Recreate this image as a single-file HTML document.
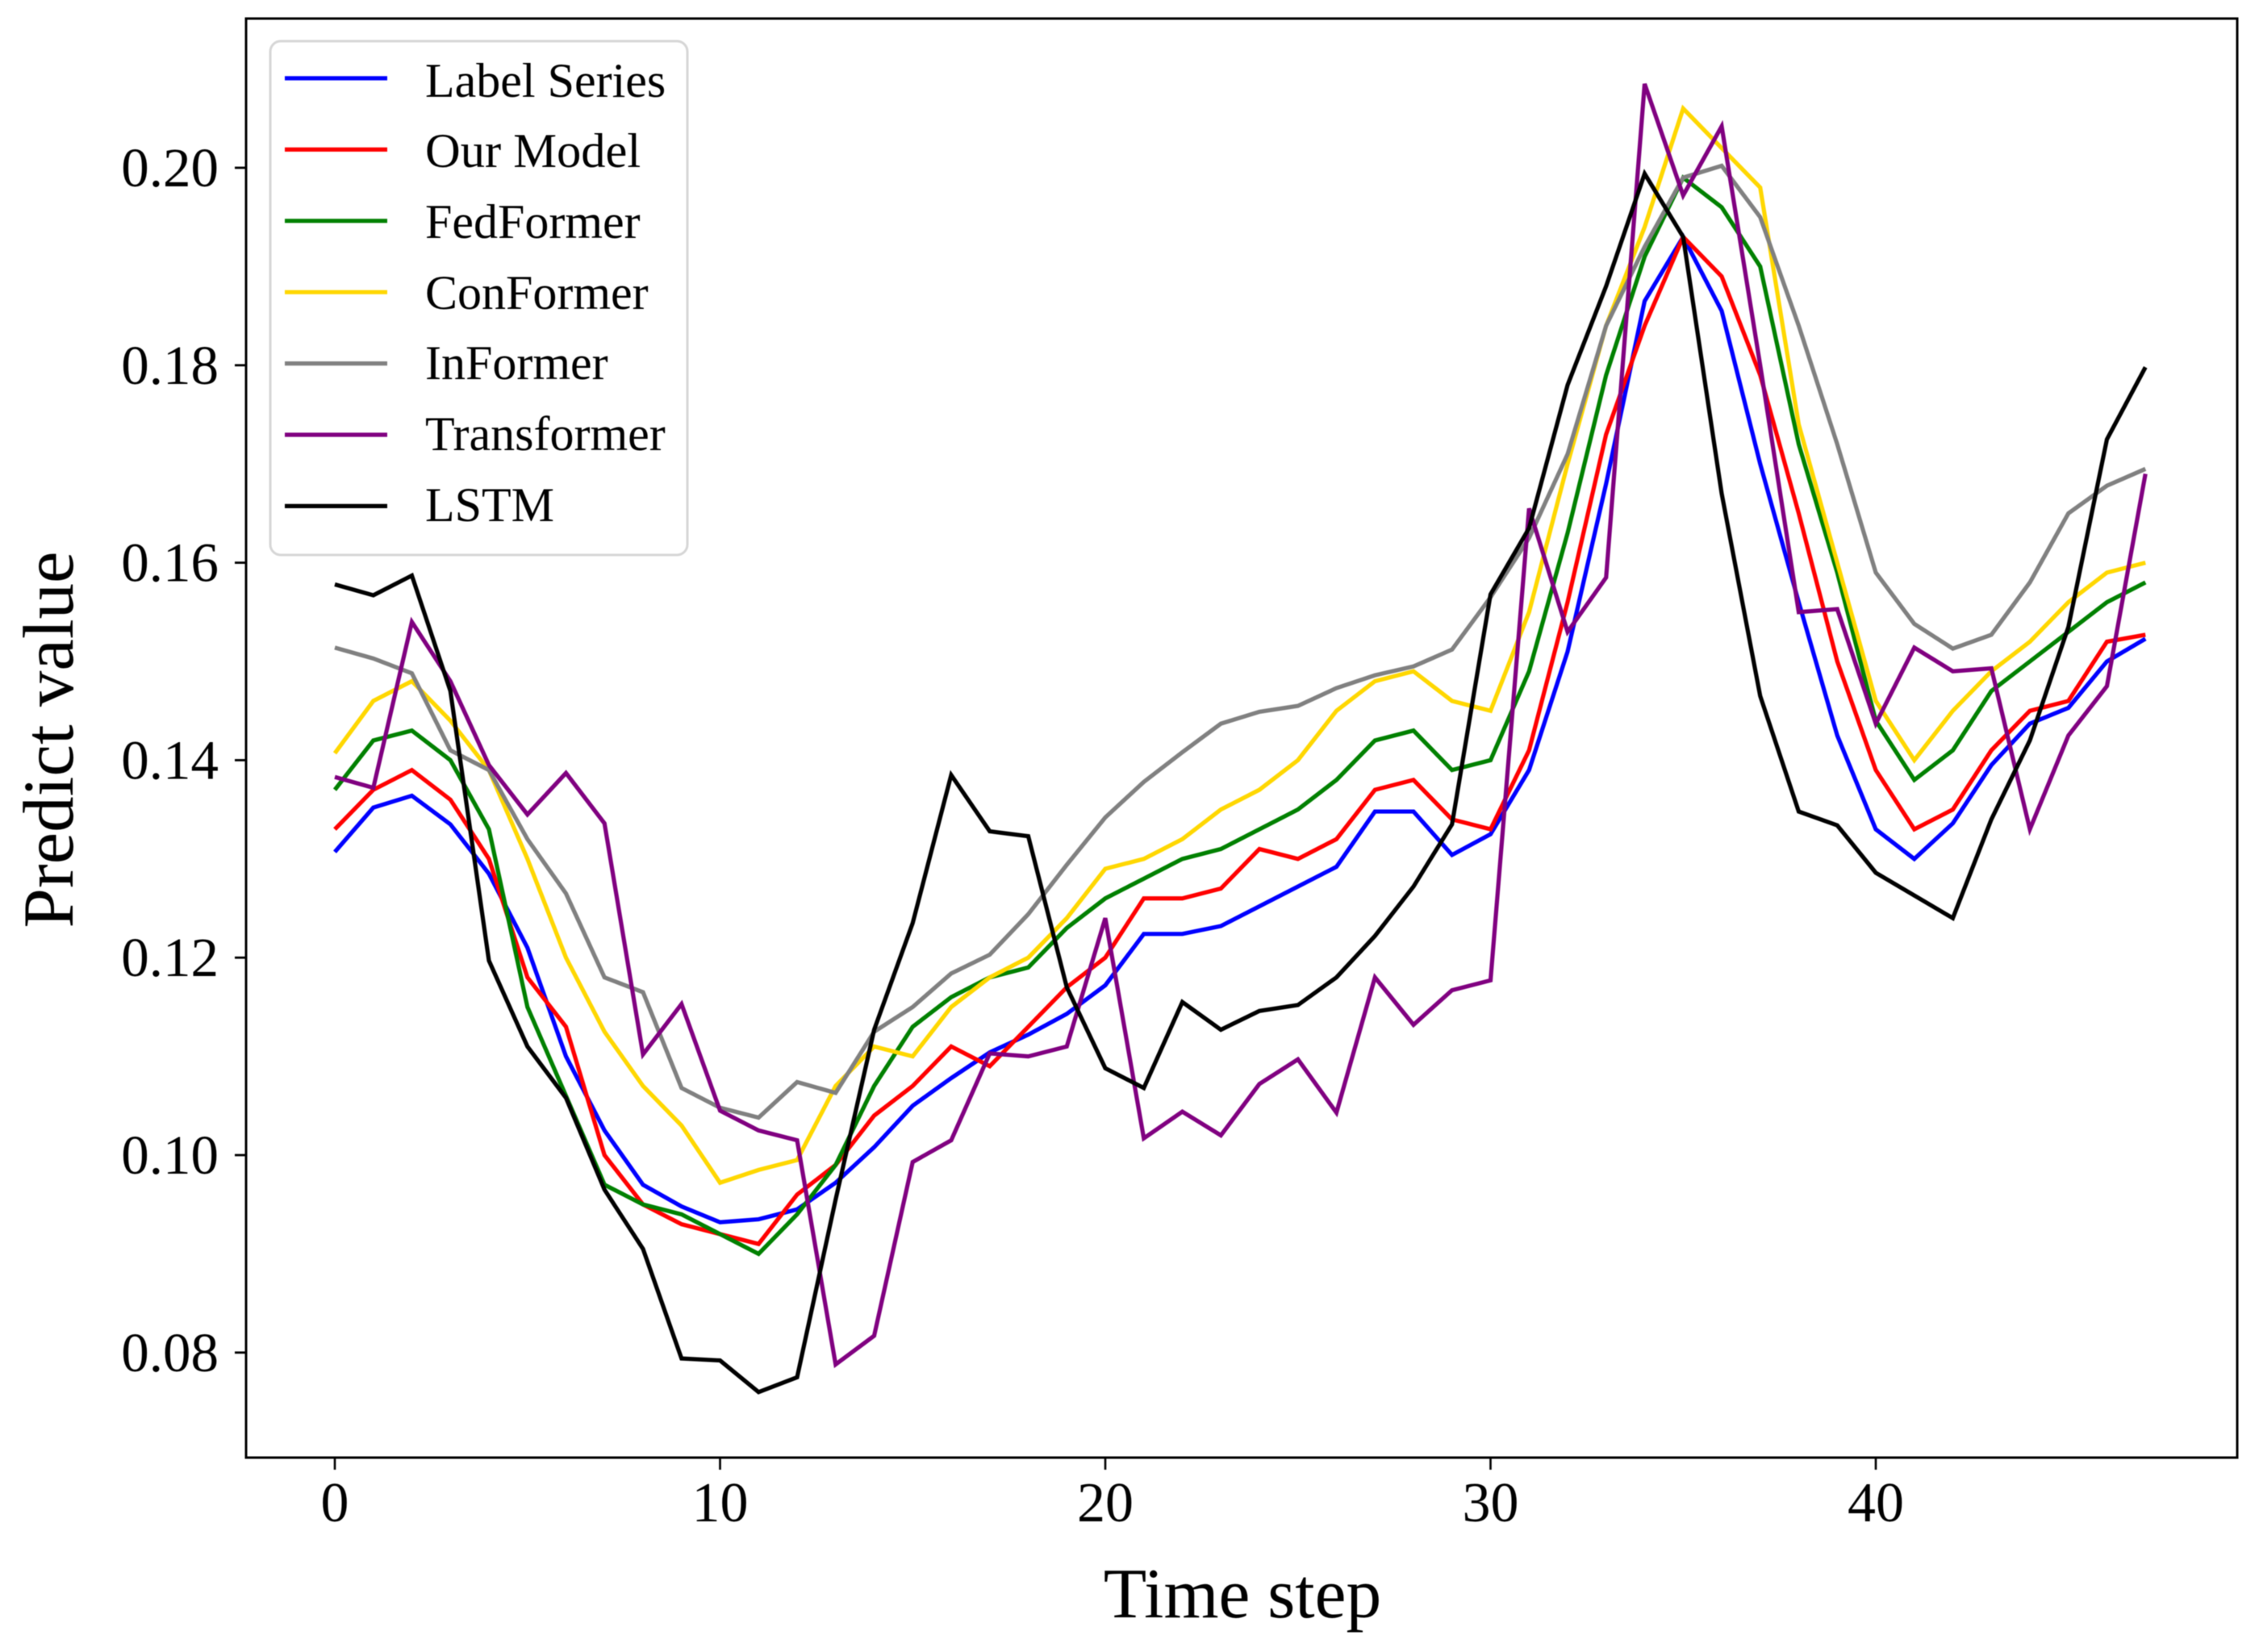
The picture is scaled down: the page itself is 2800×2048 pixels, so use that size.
<!DOCTYPE html>
<html lang="en">
<head>
<meta charset="utf-8">
<title>Predict value over time step</title>
<style>
  html, body { margin: 0; padding: 0; background: #ffffff; }
  #chart { display: block; width: 2800px; height: 2048px; filter: blur(0.6px); }
  text { font-family: "Liberation Serif", "DejaVu Serif", serif; fill: #000000; }
</style>
</head>
<body>
<svg id="chart" xmlns="http://www.w3.org/2000/svg" width="2800" height="2048" viewBox="0 0 2800 2048">
  <rect x="0" y="0" width="2800" height="2048" fill="#ffffff"></rect>
  <g id="series-layer"></g>
  <rect x="305" y="23" width="2468" height="1784" fill="none" stroke="#000000" stroke-width="3"></rect>
  <g id="x-ticks"></g>
  <g id="y-ticks"></g>
  <text x="1540" y="2005" font-size="87.5" text-anchor="middle">Time step</text>
  <text transform="translate(90 917) rotate(-90)" font-size="89" text-anchor="middle">Predict value</text>
  <g>
    <rect x="335" y="51" width="517" height="637" rx="13" ry="13" fill="#ffffff" fill-opacity="0.85" stroke="#d6d6d6" stroke-width="3"></rect>
    <g id="legend-swatches"></g>
    <text x="527" y="120" font-size="60">Label Series</text>
    <text x="527" y="207" font-size="60.5">Our Model</text>
    <text x="527" y="295" font-size="60">FedFormer</text>
    <text x="527" y="383" font-size="60">ConFormer</text>
    <text x="527" y="470" font-size="60">InFormer</text>
    <text x="527" y="558" font-size="60">Transformer</text>
    <text x="527" y="646" font-size="60">LSTM</text>
  </g>
</svg>
<script>
const labelSeries = [0.1307,0.1352,0.1364,0.1335,0.1285,0.121,0.110,0.1025,0.097,0.0948,0.0932,0.0935,0.0945,0.0972,0.1008,0.105,0.1078,0.1104,0.1122,0.1143,0.1172,0.1224,0.1224,0.1232,0.1252,0.1272,0.1292,0.1348,0.1348,0.1304,0.1325,0.139,0.151,0.168,0.1865,0.193,0.1855,0.170,0.156,0.1425,0.133,0.130,0.1336,0.1395,0.1437,0.1453,0.150,0.1523];
const ourModel = [0.133,0.137,0.139,0.136,0.130,0.118,0.113,0.100,0.095,0.093,0.092,0.091,0.096,0.099,0.104,0.107,0.111,0.109,0.113,0.117,0.120,0.126,0.126,0.127,0.131,0.130,0.132,0.137,0.138,0.134,0.133,0.141,0.156,0.173,0.184,0.193,0.189,0.179,0.165,0.150,0.139,0.133,0.135,0.141,0.145,0.146,0.152,0.1527];
const fedFormer = [0.137,0.142,0.143,0.140,0.133,0.115,0.106,0.097,0.095,0.094,0.092,0.090,0.094,0.099,0.107,0.113,0.116,0.118,0.119,0.123,0.126,0.128,0.130,0.131,0.133,0.135,0.138,0.142,0.143,0.139,0.140,0.149,0.163,0.179,0.191,0.199,0.196,0.190,0.172,0.159,0.144,0.138,0.141,0.147,0.150,0.153,0.156,0.158];
const conFormer = [0.1407,0.146,0.148,0.144,0.139,0.130,0.120,0.1125,0.107,0.103,0.0972,0.0985,0.0995,0.107,0.111,0.110,0.115,0.118,0.120,0.124,0.129,0.130,0.132,0.135,0.137,0.140,0.145,0.148,0.149,0.146,0.145,0.155,0.170,0.184,0.194,0.206,0.202,0.198,0.174,0.160,0.146,0.140,0.145,0.149,0.152,0.156,0.159,0.160];
const inFormer = [0.1514,0.1503,0.1488,0.141,0.139,0.132,0.1265,0.118,0.1165,0.1068,0.1048,0.1038,0.1074,0.1063,0.1125,0.115,0.1184,0.1203,0.1244,0.1294,0.1342,0.1378,0.1408,0.1437,0.1449,0.1455,0.1473,0.1486,0.1495,0.1512,0.1565,0.1625,0.171,0.184,0.192,0.199,0.2002,0.195,0.184,0.172,0.159,0.1538,0.1513,0.1527,0.158,0.165,0.1678,0.1695];
const transformer = [0.1383,0.1372,0.154,0.148,0.1395,0.1345,0.1387,0.1336,0.1102,0.1153,0.1045,0.1025,0.1015,0.0788,0.0817,0.0993,0.1015,0.1103,0.110,0.111,0.124,0.1017,0.1044,0.102,0.1072,0.1097,0.1043,0.118,0.1132,0.1167,0.1177,0.1655,0.153,0.1585,0.2085,0.1972,0.2042,0.180,0.155,0.1553,0.1437,0.1514,0.149,0.1493,0.133,0.1425,0.1475,0.169];
const lstm = [0.1578,0.1567,0.1587,0.147,0.1197,0.111,0.1058,0.0965,0.0905,0.0794,0.0792,0.076,0.0775,0.0955,0.1127,0.1235,0.1385,0.1328,0.1323,0.117,0.1088,0.1068,0.1155,0.1127,0.1146,0.1152,0.118,0.1222,0.1272,0.1335,0.1568,0.1635,0.178,0.188,0.1994,0.193,0.167,0.1465,0.1348,0.1334,0.1286,0.1263,0.124,0.134,0.142,0.1535,0.1725,0.1798];
const xTickValues = [0,10,20,30,40];
const yTickValues = [0.08,0.10,0.12,0.14,0.16,0.18,0.20];
const yTickLabels = ["0.08","0.10","0.12","0.14","0.16","0.18","0.20"];

const SVG_NS = "http://www.w3.org/2000/svg";
function xScale(v) { return 415 + 47.75 * v; }
function yScale(v) { return 208 + (0.2 - v) * 12240; }

function make(tag, attrs) {
  const el = document.createElementNS(SVG_NS, tag);
  Object.keys(attrs).forEach(function (k) { el.setAttribute(k, attrs[k]); });
  return el;
}

const seriesLayer = document.getElementById("series-layer");
const swatchLayer = document.getElementById("legend-swatches");

function drawSeries(values, colour, name, order) {
  const pts = values.map(function (v, i) { return xScale(i).toFixed(2) + "," + yScale(v).toFixed(2); }).join(" ");
  const line = make("polyline", { points: pts, fill: "none", stroke: colour, "stroke-width": "5.2", "stroke-linejoin": "miter", "stroke-linecap": "butt" });
  
  
  seriesLayer.appendChild(line);
  const swatchY = 97 + order * 88.4;
  const swatch = make("line", { x1: 353, x2: 480, y1: swatchY, y2: swatchY, stroke: colour, "stroke-width": "5.2" });
  
  
  swatchLayer.appendChild(swatch);
}

drawSeries(labelSeries, "#0000ff", "label-series", 0);
drawSeries(ourModel, "#ff0000", "our-model", 1);
drawSeries(fedFormer, "#008000", "fedformer", 2);
drawSeries(conFormer, "#ffd700", "conformer", 3);
drawSeries(inFormer, "#808080", "informer", 4);
drawSeries(transformer, "#800080", "transformer", 5);
drawSeries(lstm, "#000000", "lstm", 6);

const xGroup = document.getElementById("x-ticks");
xTickValues.forEach(function (v) {
  const px = xScale(v);
  const mark = make("line", { x1: px, x2: px, y1: 1807, y2: 1822, stroke: "#000000", "stroke-width": "2.6" });
  
  
  xGroup.appendChild(mark);
  const label = make("text", { x: px, y: 1886, "font-size": "70", "text-anchor": "middle" });
  
  
  label.textContent = String(v);
  xGroup.appendChild(label);
});

const yGroup = document.getElementById("y-ticks");
yTickValues.forEach(function (v, i) {
  const py = yScale(v);
  const mark = make("line", { x1: 291, x2: 305, y1: py, y2: py, stroke: "#000000", "stroke-width": "2.8" });
  
  
  yGroup.appendChild(mark);
  const label = make("text", { x: 271, y: py + 23, "font-size": "69", "text-anchor": "end" });
  
  
  label.textContent = yTickLabels[i];
  yGroup.appendChild(label);
});
</script>
</body>
</html>
